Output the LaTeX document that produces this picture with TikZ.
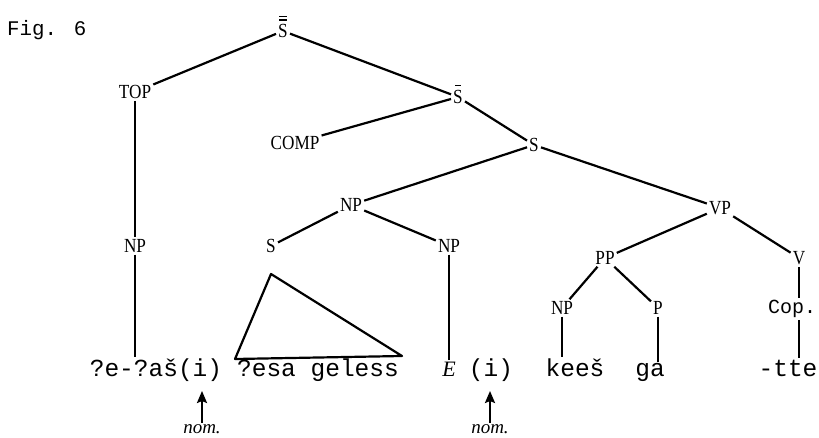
\documentclass[tikz,border=0pt]{standalone}
\usepackage{fontspec}
\setmainfont{Liberation Serif}
\newfontfamily\tw{Liberation Mono}
\newfontfamily\catfont[FakeStretch=0.86]{Liberation Serif}
\usetikzlibrary{arrows.meta}
\begin{document}
\begin{tikzpicture}[x=1pt,y=-1pt,
  cat/.style={font=\catfont\fontsize{20}{20}\selectfont, inner sep=2pt},
  word/.style={font=\tw\fontsize{24.5}{24.5}\selectfont, inner sep=1pt, anchor=base},
  gloss/.style={font=\itshape\fontsize{19}{19}\selectfont, inner sep=1pt, anchor=base},
  edge/.style={line width=2.2pt},
  stem/.style={line width=1.6pt},
  bar/.style={line width=1.3pt},
  up/.style={line width=2.2pt, -{Stealth[length=12pt,width=10pt,inset=2pt]}}]
\useasboundingbox (0,0) rectangle (819,438);

\node[font=\tw\fontsize{20.8}{20.8}\selectfont, anchor=base west, inner sep=0pt] (fig) at (7,36) {Fig. 6};

% category labels
\node[cat] (s2)   at (283,31)  {S};
\node[cat] (top)  at (135,92)  {TOP};
\node[cat] (s1)   at (458,97)  {S};
\node[cat] (comp) at (295,143) {COMP};
\node[cat] (s)    at (534,145) {S};
\node[cat] (npU)  at (351,205) {NP};
\node[cat] (vp)   at (720,208) {VP};
\node[cat] (npL)  at (135,246) {NP};
\node[cat] (sS)   at (271,246) {S};
\node[cat] (npR)  at (449,246) {NP};
\node[cat] (pp)   at (605,258) {PP};
\node[cat] (v)    at (799,258) {V};
\node[cat] (npK)  at (562,308) {NP};
\node[cat] (p)    at (658,308) {P};
\node[font=\tw\fontsize{20}{20}\selectfont, inner sep=2pt] (cop) at (792,309) {Cop.};

% bars over S
\draw[bar] ([xshift=-4pt,yshift=2pt]s2.north) -- ([xshift=4pt,yshift=2pt]s2.north);
\draw[bar] ([xshift=-4pt,yshift=5.5pt]s2.north) -- ([xshift=4pt,yshift=5.5pt]s2.north);
\draw[bar] ([xshift=-3pt,yshift=2.5pt]s1.north) -- ([xshift=3pt,yshift=2.5pt]s1.north);

% terminal string
\node[word] (w1) at (156,376) {?e-?aš(i)};
\node[word] (w2) at (318,376) {?esa geless};
\node[word, font=\itshape\fontsize{22}{22}\selectfont] (we) at (449,376) {E};
\node[word] (wi) at (491,376) {(i)};
\node[word] (w3) at (575,376) {keeš};
\node[word] (w4) at (650,376) {ga};
\node[word] (w5) at (788,376) {-tte};

% glosses
\node[gloss] (nom1) at (202,433) {nom.};
\node[gloss] (nom2) at (490,433) {nom.};
\coordinate (i1) at (202,391);
\coordinate (i2) at (490,391);

% branches
\draw[edge] (s2) -- (top);
\draw[edge] (s2) -- (s1);
\draw[edge] (s1) -- (comp);
\draw[edge] (s1) -- (s);
\draw[edge] (s) -- (npU);
\draw[edge] (s) -- (vp);
\draw[edge] (npU) -- (sS);
\draw[edge] (npU) -- (npR);
\draw[edge] (vp) -- (pp);
\draw[edge] (vp) -- (v);
\draw[edge] (pp) -- (npK);
\draw[edge] (pp) -- (p);

% unary branches
\draw[stem] (top) -- (npL);
\draw[stem] (npL.south) -- (npL.south |- w1.north);
\draw[stem] (npR.south) -- (npR.south |- we.north);
\draw[stem] (v) -- (v |- cop.north);
\draw[stem] (v |- cop.south) -- (v |- w5.north);
\draw[stem] (npK.south) -- (npK.south |- w3.north);
\draw[stem] (p) -- (p |- w4.north);

% triangle over the embedded clause
\coordinate (apex) at (271,274);
\coordinate (tl) at (235,359);
\coordinate (tr) at (402,356);
\draw[edge, line join=round] (apex) -- (tl) -- (tr) -- cycle;

% case markers
\draw[up] (nom1.north) -- (i1);
\draw[up] (nom2.north) -- (i2);
\end{tikzpicture}
\end{document}
